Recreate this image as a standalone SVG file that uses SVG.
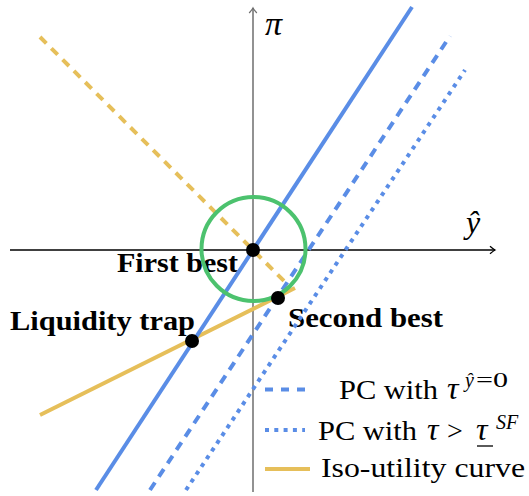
<svg xmlns="http://www.w3.org/2000/svg" width="529" height="496" viewBox="0 0 529 496">
<style>
.lbl{font-family:"Liberation Serif",serif;font-weight:bold;font-size:27px;fill:#000}
.leg{font-family:"Liberation Serif",serif;font-size:28px;fill:#000}
.m{font-family:"Liberation Serif",serif;font-style:italic;fill:#000}
.blue{stroke:#5a8de6;stroke-width:4;fill:none}
.yel{stroke:#e6bf5a;stroke-width:4;fill:none}
.dash{stroke-dasharray:9 7}
.dot{stroke-dasharray:4 5.3}
.pt{fill:#000}
</style>
<defs>
<marker id="ah" viewBox="-6 -5 8 10" markerWidth="8" markerHeight="10" refX="0" refY="0" orient="auto" markerUnits="userSpaceOnUse">
<path d="M-5,-3.8 Q-1.5,-0.8 0,0 Q-1.5,0.8 -5,3.8" fill="none" stroke="context-stroke" stroke-width="1.3"/>
</marker>
</defs>
<g id="axes">
<line x1="10" y1="250" x2="495" y2="250" stroke="#000" stroke-width="1.3" marker-end="url(#ah)"/>
<line x1="253" y1="492" x2="253" y2="8" stroke="#6e6e6e" stroke-width="1.5" marker-end="url(#ah)"/>
<text class="m" x="265" y="35" font-size="34">π</text>
<text class="m" x="466" y="233" font-size="32">ŷ</text>
</g>
<g id="labels">
<text class="lbl" x="117" y="272" textLength="121" lengthAdjust="spacingAndGlyphs">First best</text>
<text class="lbl" x="10" y="330" textLength="185" lengthAdjust="spacingAndGlyphs">Liquidity trap</text>
<text class="lbl" x="288" y="327" textLength="155" lengthAdjust="spacingAndGlyphs">Second best</text>
</g>
<g id="connectors">
<line class="yel dash" x1="40" y1="37" x2="288" y2="285"/>
<line class="yel" x1="40" y1="415" x2="295" y2="288"/>
<line class="blue" x1="96" y1="490" x2="412" y2="7"/>
<line class="blue dash" x1="150" y1="490" x2="450" y2="36"/>
<line class="blue dot" x1="186" y1="490" x2="465" y2="70"/>
<circle cx="253.5" cy="249" r="52" fill="none" stroke="#4cc26e" stroke-width="4"/>
</g>
<g id="first-best"><circle class="pt" cx="253" cy="250" r="7"/></g>
<g id="second-best"><circle class="pt" cx="278" cy="298" r="7"/></g>
<g id="liquidity-trap"><circle class="pt" cx="192" cy="341" r="7"/></g>
<g id="legend">
<line class="blue" x1="265" y1="389.5" x2="305" y2="389.5" style="stroke-dasharray:8 8"/>
<text class="leg" x="339" y="399" textLength="99" lengthAdjust="spacingAndGlyphs">PC with</text>
<text class="m" x="447" y="399" font-size="32">τ</text>
<text class="m" x="465" y="387" font-size="20">ŷ</text>
<text class="leg" x="476" y="387" style="font-size:20px" textLength="32" lengthAdjust="spacingAndGlyphs">=0</text>
<line class="blue dot" x1="265" y1="430" x2="305" y2="430"/>
<text class="leg" x="318" y="440" textLength="99" lengthAdjust="spacingAndGlyphs">PC with</text>
<text class="m" x="427" y="440" font-size="32">τ</text>
<text class="leg" x="447" y="440">&gt;</text>
<text class="m" x="476" y="440" font-size="32">τ</text>
<line x1="477" y1="446" x2="493" y2="446" stroke="#000" stroke-width="1.3"/>
<text class="m" x="496" y="429" font-size="20">SF</text>
<line class="yel" x1="265" y1="469" x2="310" y2="469"/>
<text class="leg" x="321" y="477" textLength="204" lengthAdjust="spacingAndGlyphs">Iso-utility curve</text>
</g>
</svg>
